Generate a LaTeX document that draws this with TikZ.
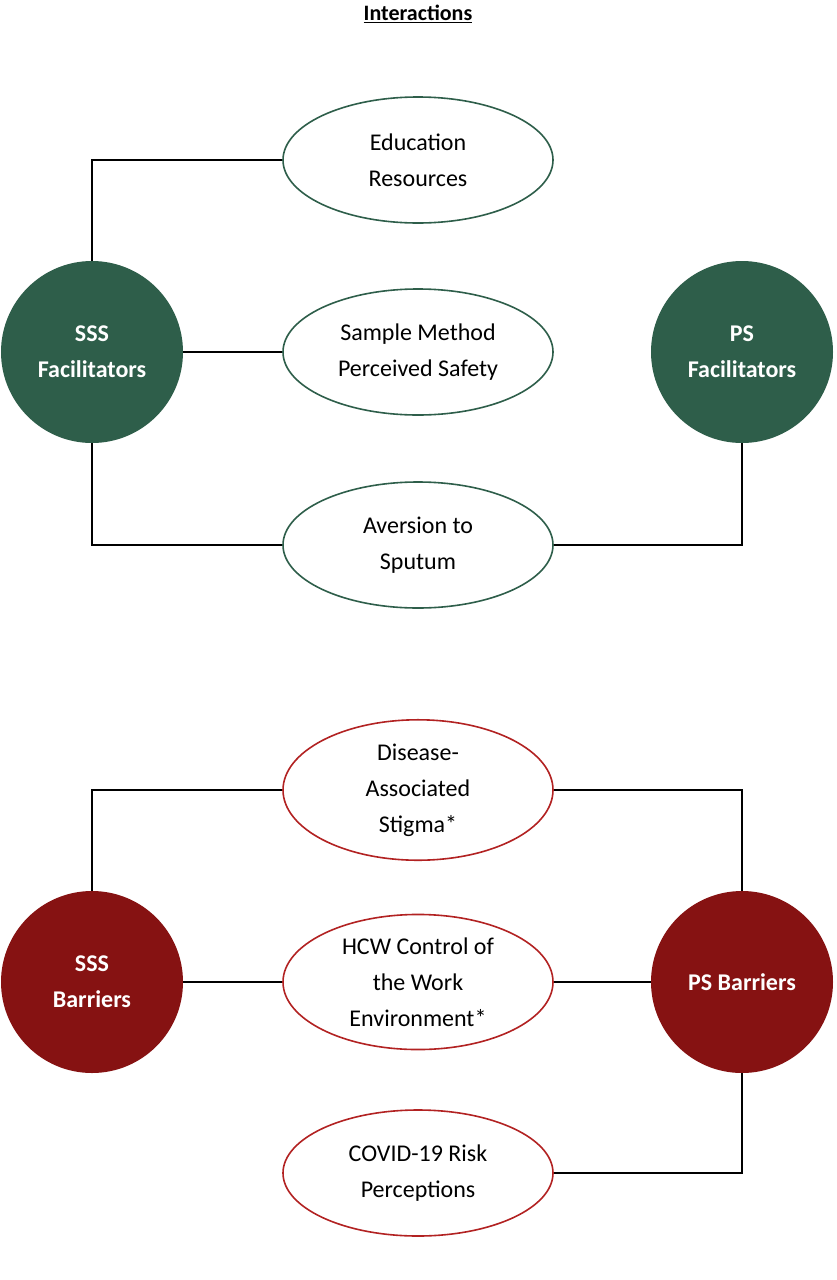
\documentclass[tikz,border=0pt]{standalone}
\usepackage{fontspec}
\setmainfont{Carlito}
\usetikzlibrary{shapes.geometric}
\definecolor{facgreen}{HTML}{2E5E4A}
\definecolor{barred}{HTML}{861212}
\definecolor{ellred}{HTML}{B22222}
\tikzset{
  topic/.style={draw,shape=ellipse,fill=white,line width=1.6pt,minimum width=270pt,minimum height=126pt,align=center,font=\fontsize{24}{36}\selectfont},
  group/.style={circle,minimum size=182pt,text=white,align=center,font=\bfseries\fontsize{24}{36}\selectfont},
  link/.style={line width=1.6pt}
}
\begin{document}
\begin{tikzpicture}[x=1pt,y=-1pt]
    \useasboundingbox (0,0) rectangle (836,1280);
    \node (title) at (418,14) {\fontsize{22}{26}\selectfont\bfseries\underline{Interactions}};

    % facilitators
    \node[topic,draw=facgreen] (edu) at (418,160) {Education\\Resources};
    \node[topic,draw=facgreen] (safe) at (418,352) {Sample Method\\Perceived Safety};
    \node[topic,draw=facgreen] (avers) at (418,545) {Aversion to\\Sputum};
    \node[group,fill=facgreen] (sssf) at (92,352) {SSS\\Facilitators};
    \node[group,fill=facgreen] (psf) at (742,352) {PS\\Facilitators};

    \draw[link] (sssf.north) |- (edu.west);
    \draw[link] (sssf.east) -- (safe.west);
    \draw[link] (sssf.south) |- (avers.west);
    \draw[link] (avers.east) -| (psf.south);

    % barriers
    \node[topic,draw=ellred] (stig) at (418,790) {Disease-\\Associated\\Stigma*};
    \node[topic,draw=ellred] (hcw) at (418,982) {HCW Control of\\the Work\\Environment*};
    \node[topic,draw=ellred] (covid) at (418,1173) {COVID-19 Risk\\Perceptions};
    \node[group,fill=barred] (sssb) at (92,982) {SSS\\Barriers};
    \node[group,fill=barred] (psb) at (742,982) {PS Barriers};

    \draw[link] (sssb.north) |- (stig.west);
    \draw[link] (stig.east) -| (psb.north);
    \draw[link] (sssb.east) -- (hcw.west);
    \draw[link] (hcw.east) -- (psb.west);
    \draw[link] (covid.east) -| (psb.south);
\end{tikzpicture}
\end{document}
